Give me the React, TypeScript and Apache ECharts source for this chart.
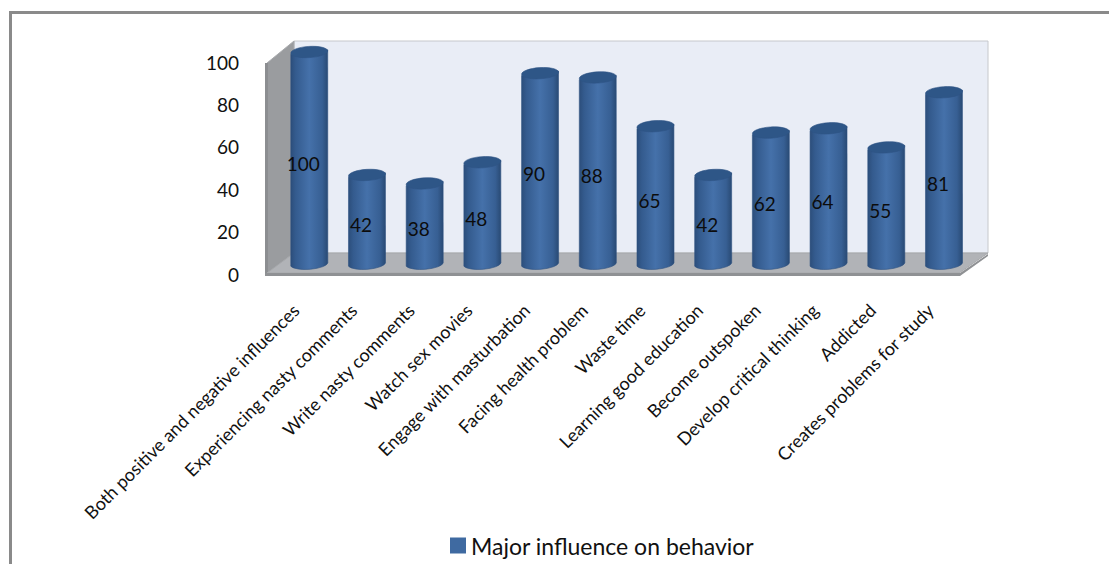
import React, { useEffect, useRef } from "react";
import * as echarts from "echarts";

const categories = [
  "Both positive and negative influences",
  "Experiencing nasty comments",
  "Write nasty comments",
  "Watch sex movies",
  "Engage with masturbation",
  "Facing health problem",
  "Waste time",
  "Learning good education",
  "Become outspoken",
  "Develop critical thinking",
  "Addicted",
  "Creates problems for study",
];
const influenceValues = [100, 42, 38, 48, 90, 88, 65, 42, 62, 64, 55, 81];
const seriesName = "Major influence on behavior";
const fontFamily = "Lato, Carlito, 'Open Sans', sans-serif";

// Draws one cylinder: shaded body, tilted cap, and its value label.
function renderCylinder(_params: any, api: any) {
  const index = api.value(0);
  const value = api.value(1);
  const [cx, top] = api.coord([index, value]);
  const [, base] = api.coord([index, 0]);
  const half = api.size([1, 0])[0] * 0.32;
  const tilt = 2.2;
  const ry = 5.6;
  const angle = -3.5;
  const body =
    `M${cx - half} ${top + tilt}L${cx - half} ${base + tilt}` +
    `A${half} ${ry} ${angle} 0 0 ${cx + half} ${base - tilt}` +
    `L${cx + half} ${top - tilt}Z`;
  const shade = new echarts.graphic.LinearGradient(0, 0, 1, 0, [
    { offset: 0, color: "#2c4e7b" },
    { offset: 0.13, color: "#345b8e" },
    { offset: 0.5, color: "#4571aa" },
    { offset: 0.85, color: "#375f93" },
    { offset: 1, color: "#294a74" },
  ]);
  return {
    type: "group",
    children: [
      {
        type: "path",
        shape: { pathData: body },
        style: { fill: shade, stroke: "#2f5382", lineWidth: 0.6 },
      },
      {
        type: "ellipse",
        x: cx,
        y: top,
        rotation: (-angle * Math.PI) / 180,
        shape: { cx: 0, cy: 0, rx: half, ry },
        style: { fill: "#2e5687", stroke: "#2d5385", lineWidth: 0.6 },
      },
      {
        type: "text",
        z2: 10,
        style: {
          text: String(value),
          x: cx - 6,
          y: (top + base) / 2 + 5,
          align: "center",
          verticalAlign: "middle",
          font: `19px ${fontFamily}`,
          fill: "#0c0c0c",
        },
      },
    ],
  };
}

export default function App() {
  const ref = useRef<HTMLDivElement>(null);

  useEffect(() => {
    document.body.style.margin = "0";
    const chart = echarts.init(ref.current!, null, { renderer: "svg" });
    chart.setOption({
      animation: false,
      backgroundColor: "#ffffff",
      legend: {
        left: 450,
        top: 534,
        itemWidth: 16,
        itemHeight: 16,
        itemGap: 4,
        padding: 0,
        icon: "rect",
        textStyle: { fontFamily, fontSize: 23, color: "#111", padding: [0, 0, 0, 0] },
        data: [seriesName],
      },
      grid: [
        // Front plane: carries the tick labels.
        { left: 267, top: 62, width: 692, height: 212 },
        // Mid-depth plane: the cylinders stand here.
        { left: 280.4, top: 52, width: 692.4, height: 212 },
      ],
      xAxis: [
        {
          gridIndex: 0,
          type: "category",
          data: categories,
          axisLine: { show: false },
          axisTick: { show: false },
          axisLabel: {
            interval: 0,
            rotate: 45,
            margin: 33,
            fontFamily,
            fontSize: 18,
            color: "#111",
          },
        },
        {
          gridIndex: 1,
          type: "category",
          data: categories,
          show: false,
        },
      ],
      yAxis: [
        {
          gridIndex: 0,
          type: "value",
          min: 0,
          max: 100,
          interval: 20,
          axisLine: { show: false },
          axisTick: { show: false },
          splitLine: { show: false },
          axisLabel: { margin: 28, fontFamily, fontSize: 19, color: "#111" },
        },
        { gridIndex: 1, type: "value", min: 0, max: 100, interval: 20, show: false },
      ],
      graphic: [
        {
          type: "rect",
          z: -5,
          shape: { x: 10.5, y: 12.5, width: 1200, height: 700 },
          style: { fill: "#ffffff", stroke: "#8a8a8a", lineWidth: 3 },
        },
        {
          type: "rect",
          z: -4,
          shape: { x: 294, y: 41, width: 694, height: 212 },
          style: { fill: "#e9edf6", stroke: "#c6c8cc", lineWidth: 1 },
        },
        {
          type: "polygon",
          z: -3,
          shape: { points: [[267, 63], [294, 41], [294, 253], [267, 274]] },
          style: { fill: "#9a9c9f", stroke: "#a9abae", lineWidth: 1 },
        },
        {
          type: "rect",
          z: -3,
          shape: { x: 265, y: 63, width: 3, height: 213 },
          style: { fill: "#8c8e91" },
        },
        {
          type: "polygon",
          z: -2,
          shape: { points: [[267, 273], [959, 273], [988, 253], [294, 253]] },
          style: { fill: "#b1b3b7", stroke: "#a6a8ab", lineWidth: 1 },
        },
        {
          type: "polygon",
          z: -2,
          shape: { points: [[265, 273], [960, 273], [988, 254], [988, 256], [960, 276], [265, 276]] },
          style: { fill: "#8f9194" },
        },
      ],
      series: [
        {
          type: "custom",
          name: seriesName,
          coordinateSystem: "cartesian2d",
          xAxisIndex: 1,
          yAxisIndex: 1,
          renderItem: renderCylinder,
          encode: { x: 0, y: 1 },
          clip: false,
          itemStyle: { color: "#3f6aa1" },
          data: influenceValues.map((v, i) => [i, v]),
        },
      ],
    });
    return () => chart.dispose();
  }, []);

  return <div ref={ref} style={{ width: 1109, height: 564 }} />;
}
